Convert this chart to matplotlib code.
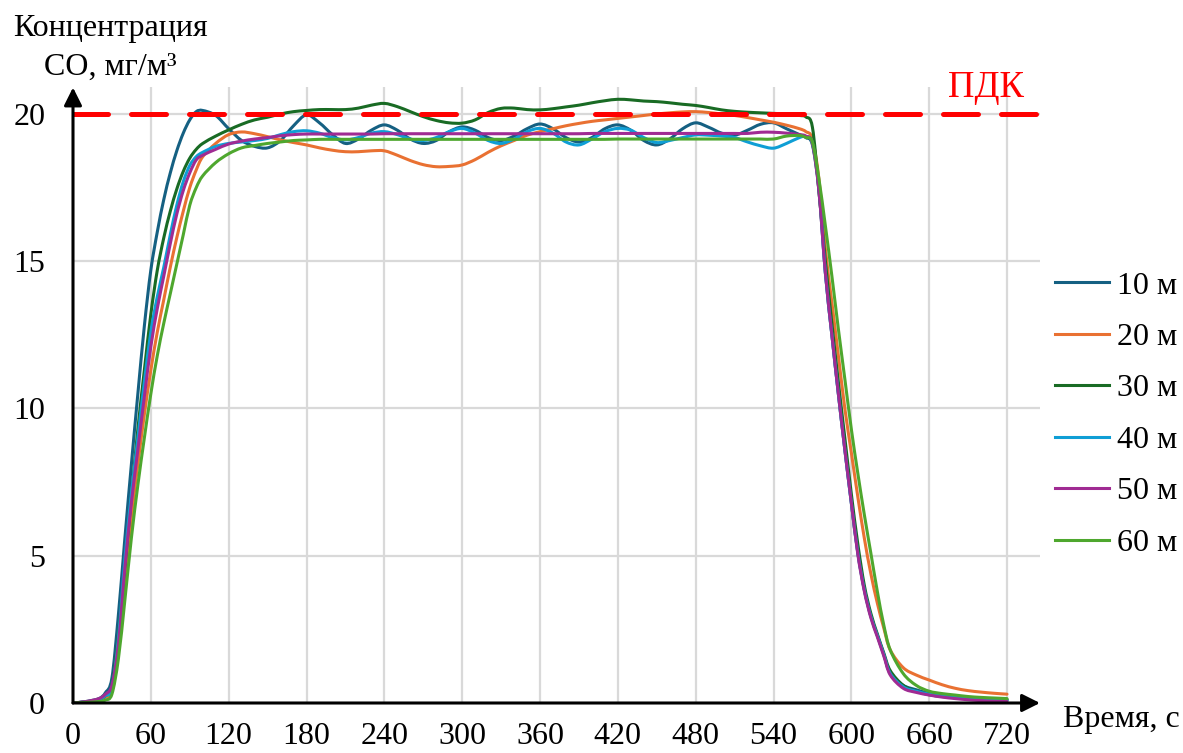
import matplotlib
matplotlib.use("Agg")
import matplotlib.pyplot as plt
from matplotlib.path import Path
from matplotlib.patches import PathPatch
from matplotlib.lines import Line2D

# ---------------- data ----------------
time_s = [0, 10, 20, 25, 30, 35, 40, 45, 50, 55, 60, 65, 70, 75, 80, 85, 90, 95, 100,
          110, 120, 130, 140, 150, 160, 170, 180, 190, 200, 210, 220, 230, 240, 250, 260,
          270, 280, 290, 300, 310, 320, 330, 340, 350, 360, 370, 380, 390, 400, 410, 420,
          430, 440, 450, 460, 470, 480, 490, 500, 510, 520, 530, 540, 550, 560,
          565, 570, 575, 580, 585, 590, 595, 600, 605, 610, 615, 620, 625, 630,
          640, 650, 660, 670, 680, 690, 700, 710, 720]

co_10m = [0, 0.05, 0.15, 0.35, 0.85, 3.0, 5.6, 8.1, 10.5, 12.8, 14.7, 16.0, 17.1, 18.0, 18.75, 19.35, 19.8, 20.08, 20.12,
          19.95, 19.5, 19.1, 18.9, 18.85, 19.1, 19.6, 19.97, 19.7, 19.3, 19.0, 19.15, 19.45, 19.63, 19.45, 19.15,
          19.0, 19.1, 19.4, 19.56, 19.45, 19.2, 19.1, 19.25, 19.5, 19.66, 19.5, 19.2, 19.05, 19.2, 19.5, 19.63,
          19.45, 19.1, 18.95, 19.15, 19.5, 19.7, 19.55, 19.35, 19.28, 19.45, 19.65, 19.7, 19.5, 19.3,
          19.2, 18.95, 17.4, 14.6, 12.5, 10.5, 8.6, 6.8, 5.1, 3.85, 2.95, 2.3, 1.65, 1.0,
          0.6, 0.45, 0.33, 0.26, 0.2, 0.16, 0.13, 0.11, 0.1]

co_20m = [0, 0.03, 0.1, 0.2, 0.4, 1.8, 4.2, 6.3, 8.1, 9.8, 11.3, 12.6, 13.7, 14.8, 15.8, 16.7, 17.5, 18.1, 18.55,
          19.0, 19.3, 19.39, 19.33, 19.23, 19.12, 19.03, 18.95, 18.85, 18.77, 18.72, 18.72, 18.75, 18.75, 18.6, 18.42,
          18.28, 18.21, 18.22, 18.27, 18.45, 18.7, 18.92, 19.1, 19.28, 19.4, 19.5, 19.6, 19.68, 19.75, 19.8, 19.85,
          19.9, 19.95, 20.0, 20.04, 20.07, 20.08, 20.05, 20.0, 19.95, 19.88, 19.8, 19.72, 19.62, 19.5,
          19.4, 19.15, 17.8, 15.4, 13.6, 11.8, 10.0, 8.5, 7.0, 5.6, 4.4, 3.4, 2.55, 1.8,
          1.2, 0.95, 0.78, 0.62, 0.5, 0.42, 0.37, 0.33, 0.3]

co_30m = [0, 0.04, 0.12, 0.25, 0.55, 2.3, 4.6, 7.0, 9.3, 11.3, 13.2, 14.7, 15.8, 16.7, 17.45, 18.05, 18.5, 18.8, 19.0,
          19.25, 19.46, 19.65, 19.8, 19.89, 20.0, 20.08, 20.12, 20.15, 20.15, 20.15, 20.2, 20.3, 20.36, 20.25, 20.08,
          19.91, 19.78, 19.7, 19.69, 19.8, 20.05, 20.19, 20.2, 20.15, 20.14, 20.18, 20.24, 20.3, 20.38, 20.45, 20.5,
          20.48, 20.44, 20.42, 20.38, 20.33, 20.29, 20.22, 20.14, 20.09, 20.06, 20.04, 20.02, 20.0, 19.95,
          19.9, 19.55, 17.4, 15.0, 12.9, 10.9, 9.0, 7.1, 5.4, 4.0, 3.05, 2.35, 1.7, 1.1,
          0.6, 0.4, 0.28, 0.22, 0.18, 0.15, 0.13, 0.12, 0.12]

co_40m = [0, 0.04, 0.12, 0.25, 0.5, 2.2, 4.9, 7.1, 9.0, 10.9, 12.6, 13.8, 14.8, 15.9, 16.9, 17.7, 18.25, 18.55, 18.7,
          18.9, 19.0, 19.05, 19.1, 19.17, 19.3, 19.4, 19.43, 19.35, 19.2, 19.12, 19.2, 19.35, 19.4, 19.3, 19.15,
          19.1, 19.2, 19.4, 19.51, 19.35, 19.1, 19.0, 19.15, 19.4, 19.51, 19.35, 19.05, 18.95, 19.15, 19.4, 19.51,
          19.45, 19.2, 19.03, 19.1, 19.2, 19.29, 19.28, 19.25, 19.2, 19.05, 18.92, 18.84, 19.0, 19.2,
          19.23, 19.0, 17.5, 14.6, 12.5, 10.5, 8.6, 6.8, 5.1, 3.85, 2.95, 2.3, 1.65, 1.0,
          0.55, 0.4, 0.3, 0.24, 0.19, 0.15, 0.12, 0.1, 0.09]

co_50m = [0, 0.05, 0.15, 0.3, 0.6, 2.0, 4.6, 6.8, 8.6, 10.4, 12.1, 13.4, 14.5, 15.6, 16.6, 17.4, 18.0, 18.44, 18.6,
          18.8, 18.98, 19.08, 19.15, 19.2, 19.26, 19.3, 19.32, 19.32, 19.32, 19.32, 19.32, 19.32, 19.33, 19.33, 19.33,
          19.33, 19.33, 19.33, 19.33, 19.33, 19.33, 19.33, 19.33, 19.33, 19.33, 19.33, 19.33, 19.33, 19.34, 19.34, 19.34,
          19.34, 19.34, 19.34, 19.34, 19.34, 19.34, 19.34, 19.34, 19.34, 19.34, 19.38, 19.38, 19.35, 19.3,
          19.25, 19.0, 17.4, 14.6, 12.5, 10.5, 8.6, 6.8, 5.05, 3.8, 2.9, 2.25, 1.6, 0.95,
          0.5, 0.36, 0.27, 0.2, 0.15, 0.11, 0.08, 0.06, 0.05]

co_60m = [0, 0.02, 0.05, 0.1, 0.3, 1.5, 3.5, 5.6, 7.4, 9.0, 10.5, 11.8, 12.9, 13.9, 14.9, 15.9, 16.9, 17.5, 17.9,
          18.35, 18.65, 18.85, 18.93, 19.0, 19.05, 19.1, 19.12, 19.14, 19.14, 19.14, 19.14, 19.14, 19.14, 19.14, 19.14,
          19.14, 19.14, 19.14, 19.14, 19.14, 19.14, 19.14, 19.14, 19.14, 19.14, 19.14, 19.14, 19.14, 19.14, 19.14, 19.15,
          19.15, 19.15, 19.15, 19.15, 19.15, 19.15, 19.15, 19.15, 19.15, 19.15, 19.15, 19.15, 19.25, 19.27,
          19.2, 19.05, 17.8, 16.2, 14.5, 12.7, 11.0, 9.3, 7.8, 6.4, 5.1, 3.8, 2.65, 1.8,
          1.0, 0.6, 0.4, 0.32, 0.27, 0.22, 0.19, 0.17, 0.15]

series_labels = ["10 м", "20 м", "30 м", "40 м", "50 м", "60 м"]
series_values = [co_10m, co_20m, co_30m, co_40m, co_50m, co_60m]
series_colors = ["#156082", "#E97132", "#196B24", "#0F9ED5", "#A02B93", "#4EA72E"]

pdk_level = 20
x_ticks = [0, 60, 120, 180, 240, 300, 360, 420, 480, 540, 600, 660, 720]
y_ticks = [0, 5, 10, 15, 20]


def smoothed_path(xs, ys):
    """Smoothed (Excel-like) line through the data points as cubic Bezier segments."""
    n = len(xs)
    verts = [(xs[0], ys[0])]
    codes = [Path.MOVETO]
    for i in range(n - 1):
        a = i - 1 if i > 0 else i
        d = i + 2 if i + 2 < n else i + 1
        c1 = (xs[i] + (xs[i + 1] - xs[a]) / 6.0, ys[i] + (ys[i + 1] - ys[a]) / 6.0)
        c2 = (xs[i + 1] - (xs[d] - xs[i]) / 6.0, ys[i + 1] - (ys[d] - ys[i]) / 6.0)
        verts += [c1, c2, (xs[i + 1], ys[i + 1])]
        codes += [Path.CURVE4] * 3
    return Path(verts, codes)


# ---------------- style ----------------
plt.rcParams['font.family'] = ['Liberation Serif', 'DejaVu Serif']
FS = 23

W, H = 1183, 753
fig = plt.figure(figsize=(W / 100, H / 100), dpi=100)
x0_px, x1_px, y0_px, y1_px = 73, 1040, 703, 87.5
ax = fig.add_axes([x0_px / W, 1 - y0_px / H, (x1_px - x0_px) / W, (y0_px - y1_px) / H])

px_per_s = (1007 - 73) / 720
px_per_unit = (703 - 114) / 20
ax.set_xlim(0, (x1_px - x0_px) / px_per_s)
ax.set_ylim(0, (y0_px - y1_px) / px_per_unit)

for s in ax.spines.values():
    s.set_visible(False)

# grid
for xv in x_ticks[1:]:
    ax.axvline(xv, color="#d9d9d9", lw=1.6, zorder=0)
for yv in y_ticks[1:]:
    ax.axhline(yv, color="#d9d9d9", lw=1.6, zorder=0)

ax.set_xticks(x_ticks)
ax.set_yticks(y_ticks)
ax.tick_params(axis='both', length=0, labelsize=FS)
ax.tick_params(axis='x', pad=14)
ax.tick_params(axis='y', pad=20)

handles = []
for lab, vals, col in zip(series_labels, series_values, series_colors):
    patch = PathPatch(smoothed_path(time_s, vals), facecolor='none', edgecolor=col,
                      lw=2.2, joinstyle='round', capstyle='round', zorder=3,
                      transform=ax.transData)
    ax.add_patch(patch)
    handles.append(Line2D([], [], color=col, lw=2.2, label=lab))

# PDK line
ax.axhline(pdk_level, color="#FF0000", lw=3.6, ls=(0, (7, 4.6)),
           dash_capstyle='round', zorder=5)

# axis arrows
arrow_kw = dict(arrowstyle='-|>', color='black', lw=2.2, mutation_scale=27,
                shrinkA=0, shrinkB=0)
ax.annotate('', xy=(1, 0), xytext=(0, 0), xycoords='axes fraction',
            textcoords='axes fraction', arrowprops=arrow_kw, annotation_clip=False, zorder=6)
ax.annotate('', xy=(0, 1), xytext=(0, 0), xycoords='axes fraction',
            textcoords='axes fraction', arrowprops=arrow_kw, annotation_clip=False, zorder=6)

# texts
fig.text(110 / W, 1 - 36 / H, "Концентрация", ha='center', va='baseline', fontsize=FS)
fig.text(110 / W, 1 - 75 / H, "CO, мг/м³", ha='center', va='baseline', fontsize=FS)
fig.text(1063 / W, 1 - 727 / H, "Время, с", ha='left', va='baseline', fontsize=FS)
fig.text(948 / W, 1 - 97 / H, "ПДК", ha='left', va='baseline', fontsize=26.5, color="#FF0000")

fig.legend(handles=handles, labels=series_labels, loc='center left',
           bbox_to_anchor=(1055 / W, 1 - 414.5 / H), frameon=False, fontsize=FS,
           handlelength=1.7, handletextpad=0.25, labelspacing=0.69, borderpad=0,
           borderaxespad=0)

fig.savefig("out.png", dpi=100)
